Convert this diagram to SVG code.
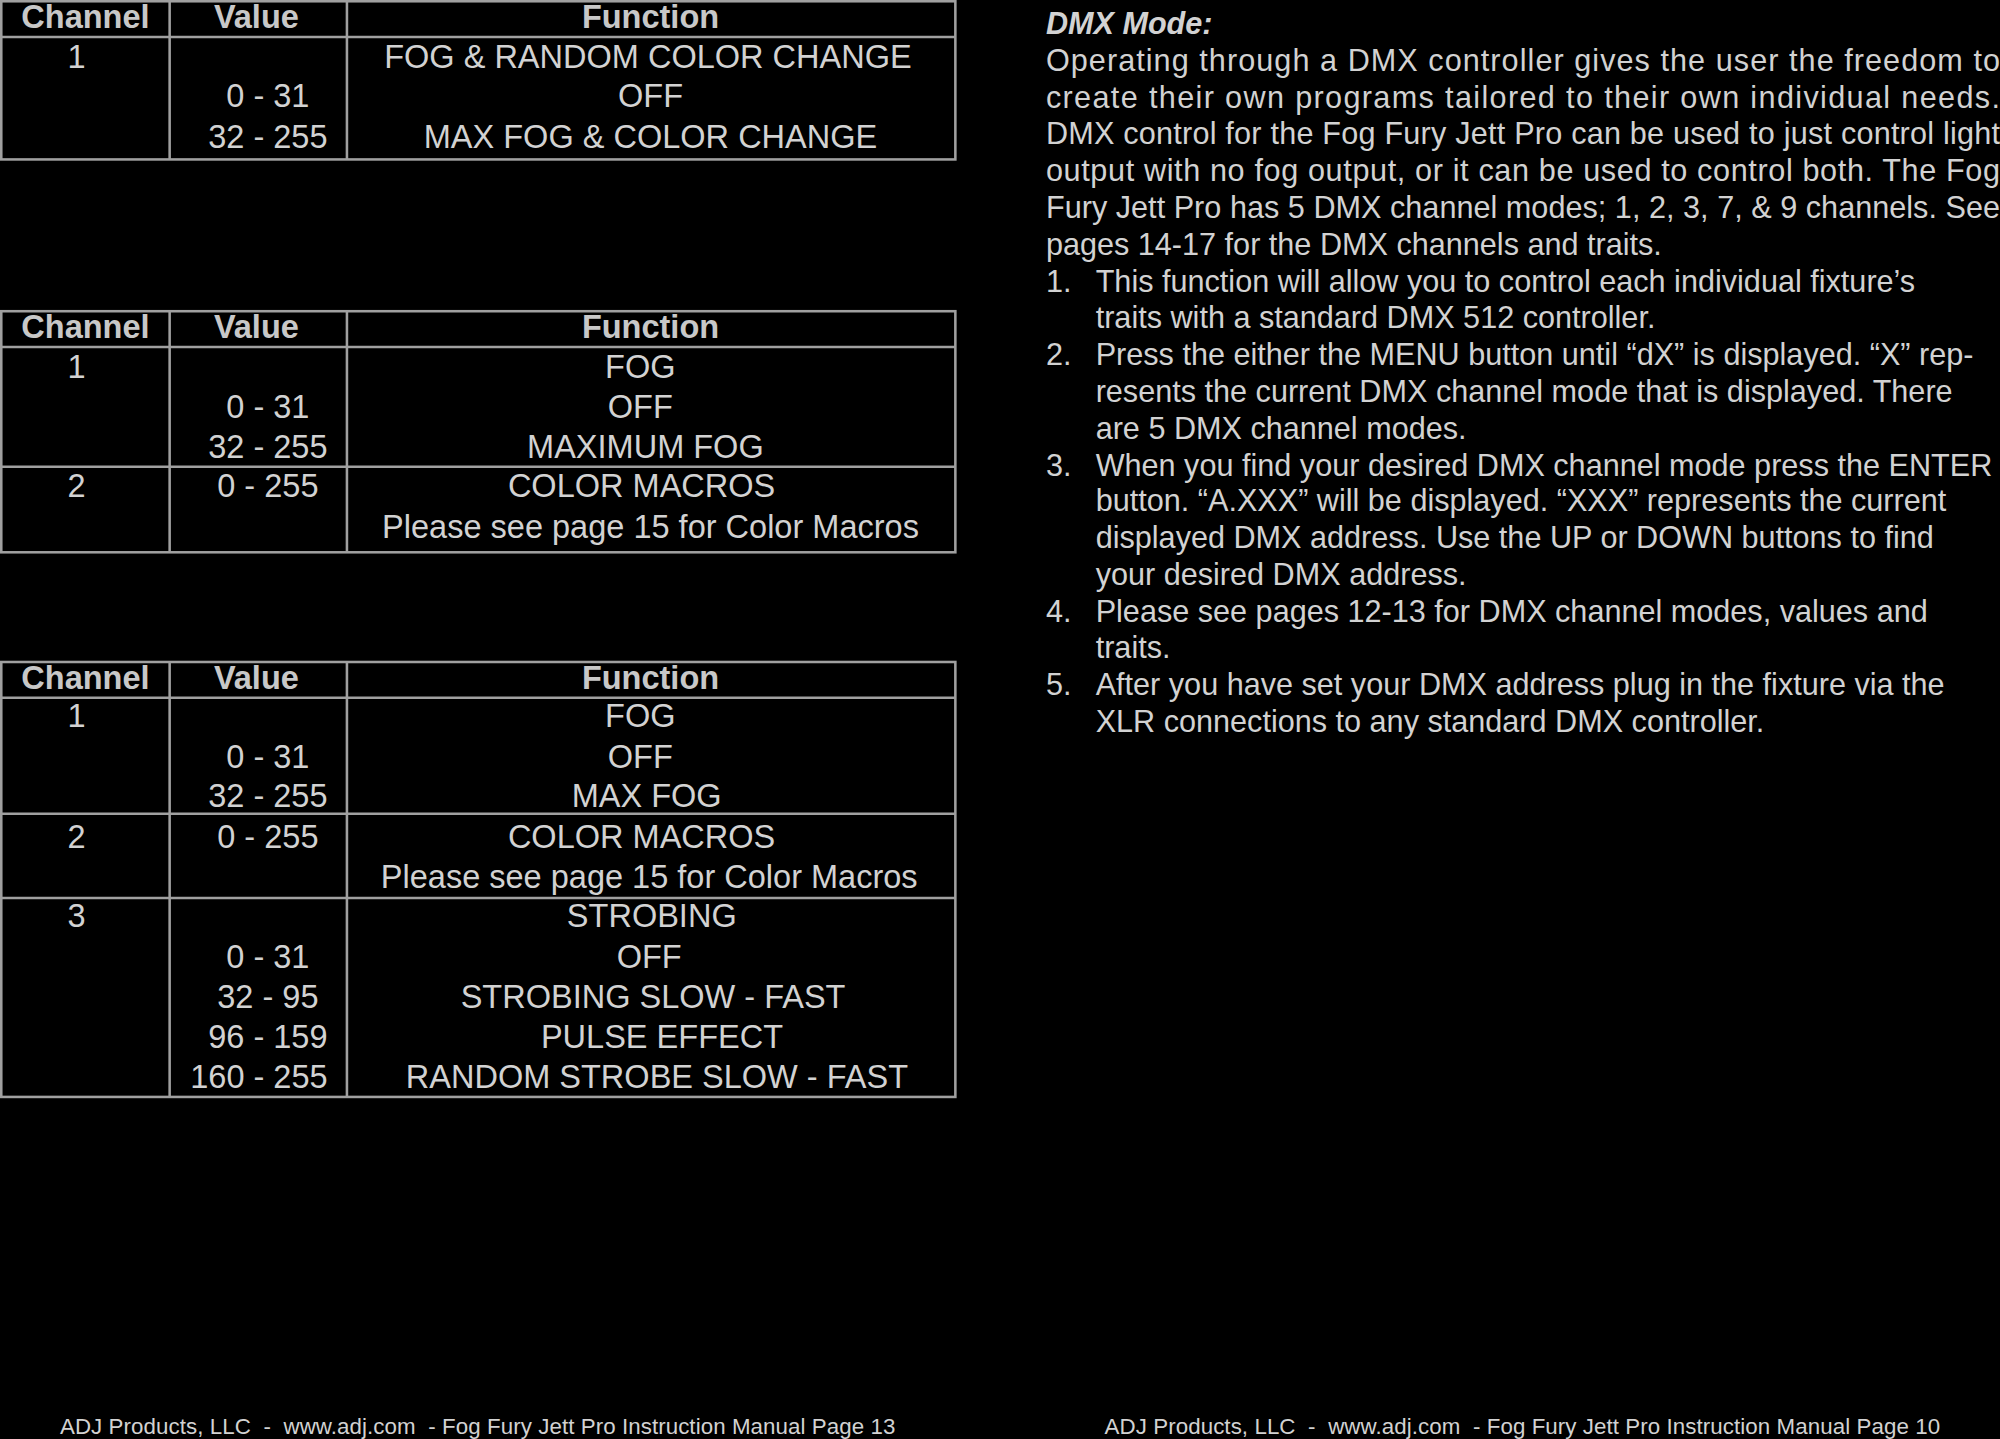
<svg xmlns="http://www.w3.org/2000/svg" width="2000" height="1439" viewBox="0 0 2000 1439">
<style>
.t{font-family:"Liberation Sans",Arial,sans-serif;font-size:25.5px;fill:#d2d2d2;text-anchor:middle}
.h{font-weight:bold;fill:#c8c8c8;font-size:25.5px}
.p{font-family:"Liberation Sans",Arial,sans-serif;font-size:24px;fill:#d2d2d2}
.f{font-family:"Liberation Sans",Arial,sans-serif;font-size:17.5px;fill:#d2d2d2}
.l{stroke:#a0a0a0;stroke-width:2;fill:none}
</style>
<rect width="2000" height="1439" fill="#000"/>
<g transform="scale(1.27551)">
<g id="table1">
<rect class="l" x="1" y="1" width="748" height="124"/>
<line class="l" x1="1" y1="29" x2="749" y2="29"/>
<line class="l" x1="133" y1="1" x2="133" y2="125"/>
<line class="l" x1="272" y1="1" x2="272" y2="125"/>
<text class="t h" x="67" y="22">Channel</text><text class="t h" x="201" y="22">Value</text><text class="t h" x="510" y="22">Function</text>
<text class="t" x="60" y="53">1</text><text class="t" x="508" y="53">FOG &amp; RANDOM COLOR CHANGE</text>
<text class="t" x="210" y="84">0 - 31</text><text class="t" x="510" y="84">OFF</text>
<text class="t" x="210" y="116">32 - 255</text><text class="t" x="510" y="116">MAX FOG &amp; COLOR CHANGE</text>
</g>
<g id="table2">
<rect class="l" x="1" y="244" width="748" height="189"/>
<line class="l" x1="1" y1="272" x2="749" y2="272"/>
<line class="l" x1="1" y1="366" x2="749" y2="366"/>
<line class="l" x1="133" y1="244" x2="133" y2="433"/>
<line class="l" x1="272" y1="244" x2="272" y2="433"/>
<text class="t h" x="67" y="265">Channel</text><text class="t h" x="201" y="265">Value</text><text class="t h" x="510" y="265">Function</text>
<text class="t" x="60" y="296">1</text><text class="t" x="502" y="296">FOG</text>
<text class="t" x="210" y="328">0 - 31</text><text class="t" x="502" y="328">OFF</text>
<text class="t" x="210" y="359">32 - 255</text><text class="t" x="506" y="359">MAXIMUM FOG</text>
<text class="t" x="60" y="390">2</text><text class="t" x="210" y="390">0 - 255</text><text class="t" x="503" y="390">COLOR MACROS</text>
<text class="t" x="510" y="422">Please see page 15 for Color Macros</text>
</g>
<g id="table3">
<rect class="l" x="1" y="519" width="748" height="341"/>
<line class="l" x1="1" y1="547" x2="749" y2="547"/>
<line class="l" x1="1" y1="638" x2="749" y2="638"/>
<line class="l" x1="1" y1="704" x2="749" y2="704"/>
<line class="l" x1="133" y1="519" x2="133" y2="860"/>
<line class="l" x1="272" y1="519" x2="272" y2="860"/>
<text class="t h" x="67" y="540">Channel</text><text class="t h" x="201" y="540">Value</text><text class="t h" x="510" y="540">Function</text>
<text class="t" x="60" y="570">1</text><text class="t" x="502" y="570">FOG</text>
<text class="t" x="210" y="602">0 - 31</text><text class="t" x="502" y="602">OFF</text>
<text class="t" x="210" y="633">32 - 255</text><text class="t" x="507" y="633">MAX FOG</text>
<text class="t" x="60" y="665">2</text><text class="t" x="210" y="665">0 - 255</text><text class="t" x="503" y="665">COLOR MACROS</text>
<text class="t" x="509" y="696">Please see page 15 for Color Macros</text>
<text class="t" x="60" y="727">3</text><text class="t" x="511" y="727">STROBING</text>
<text class="t" x="210" y="759">0 - 31</text><text class="t" x="509" y="759">OFF</text>
<text class="t" x="210" y="790">32 - 95</text><text class="t" x="512" y="790">STROBING SLOW - FAST</text>
<text class="t" x="210" y="822">96 - 159</text><text class="t" x="519" y="822">PULSE EFFECT</text>
<text class="t" x="203" y="853">160 - 255</text><text class="t" x="515" y="853">RANDOM STROBE SLOW - FAST</text>
</g>
<g id="dmxmode">
<text class="p" x="820" y="27" style="font-weight:bold;font-style:italic">DMX Mode:</text>
<text class="p" x="820" y="56" textLength="748" lengthAdjust="spacing">Operating through a DMX controller gives the user the freedom to</text>
<text class="p" x="820" y="85" textLength="748" lengthAdjust="spacing">create their own programs tailored to their own individual needs.</text>
<text class="p" x="820" y="113" textLength="748" lengthAdjust="spacing">DMX control for the Fog Fury Jett Pro can be used to just control light</text>
<text class="p" x="820" y="142" textLength="748" lengthAdjust="spacing">output with no fog output, or it can be used to control both. The Fog</text>
<text class="p" x="820" y="171" textLength="748" lengthAdjust="spacing">Fury Jett Pro has 5 DMX channel modes; 1, 2, 3, 7, &amp; 9 channels. See</text>
<text class="p" x="820" y="200">pages 14-17 for the DMX channels and traits.</text>
<text class="p" x="820" y="229">1.</text><text class="p" x="859" y="229">This function will allow you to control each individual fixture’s</text>
<text class="p" x="859" y="257">traits with a standard DMX 512 controller.</text>
<text class="p" x="820" y="286">2.</text><text class="p" x="859" y="286">Press the either the MENU button until “dX” is displayed. “X” rep-</text>
<text class="p" x="859" y="315">resents the current DMX channel mode that is displayed. There</text>
<text class="p" x="859" y="344">are 5 DMX channel modes.</text>
<text class="p" x="820" y="373">3.</text><text class="p" x="859" y="373">When you find your desired DMX channel mode press the ENTER</text>
<text class="p" x="859" y="401">button. “A.XXX” will be displayed. “XXX” represents the current</text>
<text class="p" x="859" y="430">displayed DMX address. Use the UP or DOWN buttons to find</text>
<text class="p" x="859" y="459">your desired DMX address.</text>
<text class="p" x="820" y="488">4.</text><text class="p" x="859" y="488">Please see pages 12-13 for DMX channel modes, values and</text>
<text class="p" x="859" y="516">traits.</text>
<text class="p" x="820" y="545">5.</text><text class="p" x="859" y="545">After you have set your DMX address plug in the fixture via the</text>
<text class="p" x="859" y="574">XLR connections to any standard DMX controller.</text>
</g>
<g id="footers">
<text class="f" x="47" y="1124" textLength="655" lengthAdjust="spacing" xml:space="preserve">ADJ Products, LLC  -  www.adj.com  - Fog Fury Jett Pro Instruction Manual Page 13</text>
<text class="f" x="866" y="1124" textLength="655" lengthAdjust="spacing" xml:space="preserve">ADJ Products, LLC  -  www.adj.com  - Fog Fury Jett Pro Instruction Manual Page 10</text>
</g>
</g>
</svg>
